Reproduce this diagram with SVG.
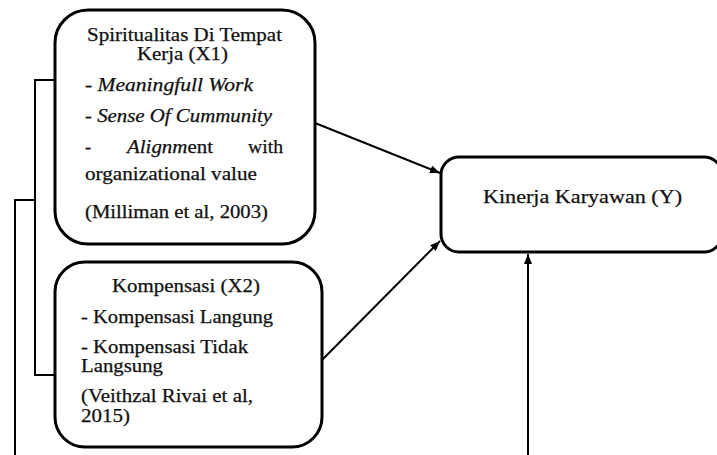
<svg xmlns="http://www.w3.org/2000/svg" width="717" height="455" viewBox="0 0 717 455">
<defs>
<marker id="ah" viewBox="0 0 10 8" refX="10" refY="4" markerWidth="10" markerHeight="8" markerUnits="userSpaceOnUse" orient="auto">
<path d="M0,0 L10,4 L0,8 Z" fill="#000"/>
</marker>
<style>
.box{fill:#fff;stroke:#000;stroke-width:3}
.ln{fill:none;stroke:#000;stroke-width:2}
.t{font-family:"Liberation Serif","Times New Roman",serif;font-size:18.5px;fill:#111;stroke:#111;stroke-width:0.25}
.i{font-style:italic}
</style>
</defs>
<rect width="717" height="455" fill="#fff"/>
<g id="connectors">
<path class="ln" d="M55,80 H35 V375 H55"/>
<path class="ln" d="M35,200 H15 V455"/>
<line class="ln" x1="315" y1="123" x2="440" y2="173" marker-end="url(#ah)"/>
<line class="ln" x1="322" y1="360" x2="440" y2="241" marker-end="url(#ah)"/>
<line class="ln" x1="528" y1="455" x2="528" y2="254" marker-end="url(#ah)"/>
</g>
<g id="x1">
<rect class="box" x="55" y="10" width="260" height="234" rx="33" ry="33"/>
<text class="t" x="87" y="41" textLength="195" lengthAdjust="spacingAndGlyphs">Spiritualitas Di Tempat</text>
<text class="t" x="137" y="60" textLength="91" lengthAdjust="spacingAndGlyphs">Kerja (X1)</text>
<text class="t" x="85" y="91" textLength="168" lengthAdjust="spacingAndGlyphs">- <tspan class="i">Meaningfull Work</tspan></text>
<text class="t" x="85" y="122" textLength="187" lengthAdjust="spacingAndGlyphs">- <tspan class="i">Sense Of Cummunity</tspan></text>
<text class="t" x="85" y="153">-</text>
<text class="t" x="127" y="153" textLength="86" lengthAdjust="spacingAndGlyphs"><tspan class="i">Alignm</tspan>ent</text>
<text class="t" x="248" y="153" textLength="35" lengthAdjust="spacingAndGlyphs">with</text>
<text class="t" x="85" y="180" textLength="172" lengthAdjust="spacingAndGlyphs">organizational value</text>
<text class="t" x="85" y="218" textLength="183" lengthAdjust="spacingAndGlyphs">(Milliman et al, 2003)</text>
</g>
<g id="x2">
<rect class="box" x="55" y="262" width="267" height="185" rx="30" ry="30"/>
<text class="t" x="112" y="292" textLength="148" lengthAdjust="spacingAndGlyphs">Kompensasi (X2)</text>
<text class="t" x="81" y="323" textLength="192" lengthAdjust="spacingAndGlyphs">- Kompensasi Langung</text>
<text class="t" x="81" y="353" textLength="167" lengthAdjust="spacingAndGlyphs">- Kompensasi Tidak</text>
<text class="t" x="81" y="372" textLength="82" lengthAdjust="spacingAndGlyphs">Langsung</text>
<text class="t" x="81" y="402" textLength="172" lengthAdjust="spacingAndGlyphs">(Veithzal Rivai et al,</text>
<text class="t" x="81" y="422" textLength="49" lengthAdjust="spacingAndGlyphs">2015)</text>
</g>
<g id="y">
<rect class="box" x="441" y="157" width="281" height="95" rx="18" ry="18"/>
<text class="t" x="483" y="203" textLength="199" lengthAdjust="spacingAndGlyphs">Kinerja Karyawan (Y)</text>
</g>
</svg>
